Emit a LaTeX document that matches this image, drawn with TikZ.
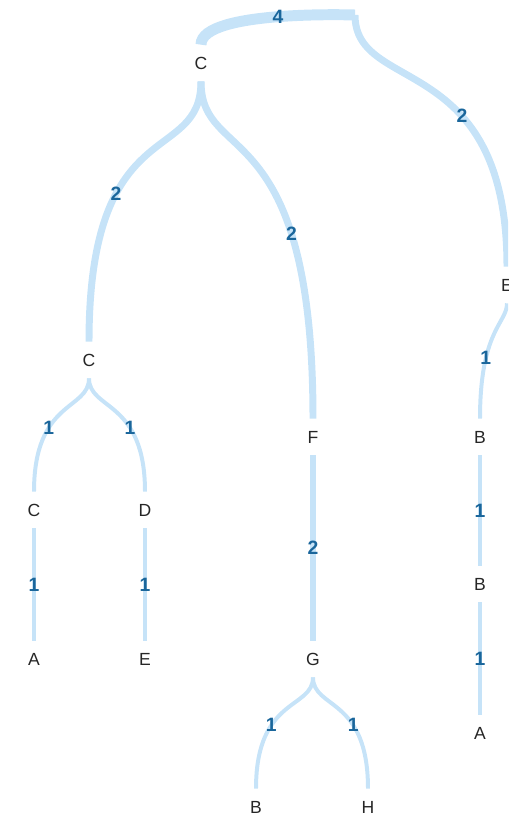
\documentclass[tikz,border=0pt]{standalone}
\usepackage{fontspec}
\setmainfont{Liberation Sans}
\definecolor{linkblue}{RGB}{198,227,248}
\definecolor{valueblue}{RGB}{26,102,155}
\begin{document}
\begin{tikzpicture}[
  x=0.02cm, y=-0.02cm,
  leaf/.style={inner sep=0pt, minimum height=0.72cm, text=black!85, font=\fontsize{10}{12}\selectfont},
  link/.style={draw=linkblue, line width=#1*0.567pt},
  value/.style={text=valueblue, font=\fontsize{11}{13}\selectfont\bfseries}
]
\useasboundingbox (0,0) rectangle (508,815);
\clip (0,0) rectangle (508,815);
\coordinate (root) at (355,15);
\node[leaf] (c1) at (201,63) {C};
\node[leaf] (e1) at (507,285) {E};
\node[leaf] (c2) at (89,360) {C};
\node[leaf] (f) at (313,437) {F};
\node[leaf] (c3) at (34,510) {C};
\node[leaf] (d) at (145,510) {D};
\node[leaf] (a1) at (34,659) {A};
\node[leaf] (e2) at (145,659) {E};
\node[leaf] (g) at (313,659) {G};
\node[leaf] (b1) at (256,807) {B};
\node[leaf] (h) at (368,807) {H};
\node[leaf] (b2) at (480,437) {B};
\node[leaf] (b3) at (480,584) {B};
\node[leaf] (a2) at (480,733) {A};
% links, width by count
\draw[link=11] (root) .. controls +(0,0) and +(0,-35) .. (c1.north) node[value, pos=0.5] {4};
\draw[link=7] (root) .. controls +(0,80) and +(0,-217) .. (e1.north) node[value, pos=0.64] {2};
\draw[link=7] (c1.south) .. controls +(0,85) and +(0,-232) .. (c2.north) node[value, pos=0.68] {2};
\draw[link=7] (c1.south) .. controls +(0,85) and +(0,-309) .. (f.north) node[value, pos=0.72] {2};
\draw[link=4] (c2.south) .. controls +(0,32) and +(0,-92) .. (c3.north) node[value, pos=0.66] {1};
\draw[link=4] (c2.south) .. controls +(0,32) and +(0,-92) .. (d.north) node[value, pos=0.66] {1};
\draw[link=4] (c3) -- (a1) node[value, midway] {1};
\draw[link=4] (d) -- (e2) node[value, midway] {1};
\draw[link=7] (f) -- (g) node[value, midway] {2};
\draw[link=4] (g.south) .. controls +(0,32) and +(0,-92) .. (b1.north) node[value, pos=0.66] {1};
\draw[link=4] (g.south) .. controls +(0,32) and +(0,-92) .. (h.north) node[value, pos=0.66] {1};
\draw[link=4] (e1.south) .. controls +(0,20) and +(0,-89) .. (b2.north) node[value, pos=0.7] {1};
\draw[link=4] (b2) -- (b3) node[value, midway] {1};
\draw[link=4] (b3) -- (a2) node[value, midway] {1};
\end{tikzpicture}
\end{document}
